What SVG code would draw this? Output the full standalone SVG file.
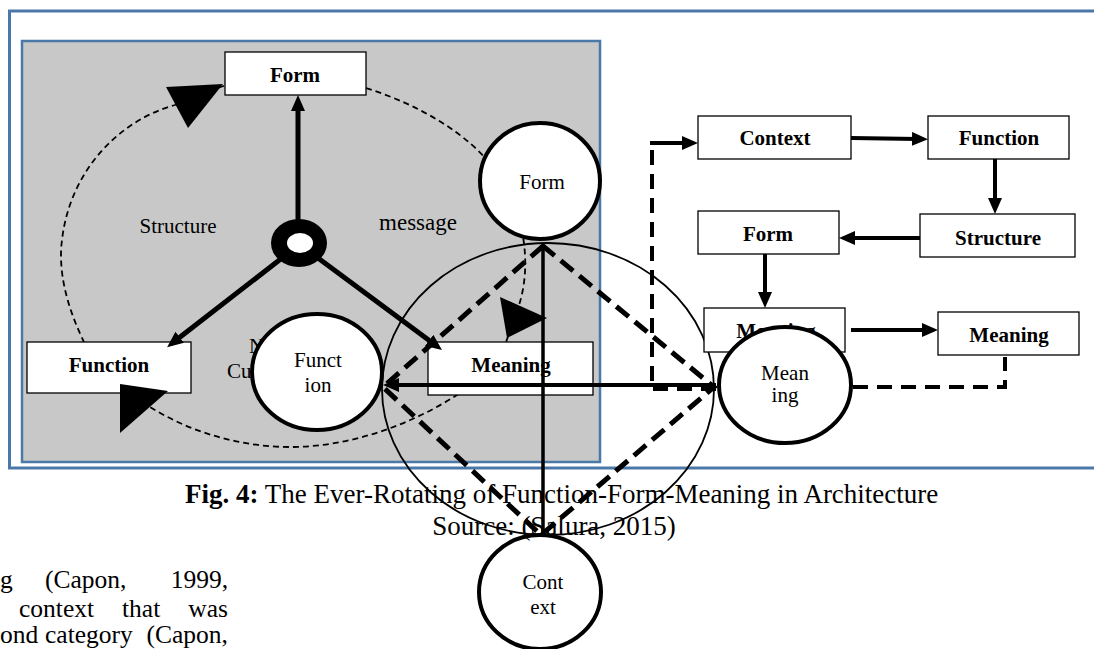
<svg xmlns="http://www.w3.org/2000/svg" width="1094" height="649" viewBox="0 0 1094 649">
  <style>
    .frame { fill: none; stroke: #4a78a8; stroke-width: 3; }
    .panel { fill: #c8c8c8; stroke: #4a78a8; stroke-width: 2.5; }
    .box { fill: #ffffff; stroke: #000000; stroke-width: 1.3; }
    .node { fill: #ffffff; stroke: #000000; stroke-width: 4; }
    .lbl { font-family: "Liberation Serif", "Times New Roman", serif; font-size: 21px; font-weight: bold; text-anchor: middle; fill: #000; }
    .clbl { font-family: "Liberation Serif", "Times New Roman", serif; font-size: 21px; text-anchor: middle; fill: #000; }
    .note { font-family: "Liberation Serif", "Times New Roman", serif; font-size: 21px; fill: #000; }
    .body { font-family: "Liberation Serif", "Times New Roman", serif; font-size: 25.5px; fill: #000; }
    .cap { font-family: "Liberation Serif", "Times New Roman", serif; font-size: 27px; fill: #000; }
    .cycle { fill: none; stroke: #000; stroke-width: 1.8; stroke-dasharray: 6 4; }
    .thick { fill: none; stroke: #000; stroke-width: 5; }
    .flow { fill: none; stroke: #000; stroke-width: 4; }
    .dash { fill: none; stroke: #000; stroke-width: 4; stroke-dasharray: 15 9; }
    .diamond { fill: none; stroke: #000; stroke-width: 5; stroke-dasharray: 16 8; }
    .ring { fill: none; stroke: #000; stroke-width: 1.8; }
  </style>
  <defs>
    <marker id="ah" markerUnits="userSpaceOnUse" markerWidth="18" markerHeight="16" refX="6" refY="7" orient="auto">
      <path d="M0,0 L16,7 L0,14 z" fill="#000"/>
    </marker>
  </defs>

  <!-- outer frame and shaded panel -->
  <rect class="frame" x="9.5" y="11" width="1100" height="457"/>
  <rect class="panel" x="22" y="41" width="578" height="421"/>

  <!-- dashed rotation loop -->
  <g id="cycle">
    <path class="cycle" d="M366,88 C420,105 470,135 495,170 C525,210 532,265 519,305 L505,345 C500,370 480,385 457,395 C410,425 350,447 290,447 C240,447 190,432 150,407 C110,385 90,360 84,342 C66,305 58,270 62,240 C70,170 120,120 175,105 C195,97 210,90 224,86 Z"/>
  </g>

  <g id="loop-labels">
    <text class="note" x="178" y="233" text-anchor="middle">Structure</text>
    <text class="note" x="418" y="230" text-anchor="middle" style="font-size:23px">message</text>
    <text class="note" x="249" y="353">N</text>
    <text class="note" x="227" y="378">Cu</text>
  </g>

  <g id="form-box">
    <rect class="box" x="225" y="52" width="141" height="43"/>
    <text class="lbl" x="295" y="82">Form</text>
  </g>
  <g id="function-box">
    <rect class="box" x="27" y="342" width="164" height="51"/>
    <text class="lbl" x="109" y="372">Function</text>
  </g>
  <g id="meaning-box">
    <rect class="box" x="428" y="342" width="165" height="53"/>
    <text class="lbl" x="511" y="372">Meaning</text>
  </g>

  <!-- hub with three spokes -->
  <g id="spokes">
    <line class="thick" x1="298" y1="222" x2="298" y2="105" marker-end="url(#ah)"/>
    <line class="thick" x1="282" y1="258" x2="175" y2="341" marker-end="url(#ah)"/>
    <line class="thick" x1="318" y1="258" x2="434" y2="344" marker-end="url(#ah)"/>
  </g>
  <g id="hub">
    <ellipse cx="299" cy="243" rx="28" ry="24" fill="#000"/>
    <ellipse cx="300" cy="243" rx="13" ry="10" fill="#fff"/>
  </g>

  <!-- loop arrowheads -->
  <g id="loop-heads" fill="#000">
    <polygon points="166,87 223,84 188,128"/>
    <polygon points="120,384 168,391 120,433"/>
    <polygon points="500,297 547,318 507,338"/>
  </g>

  <g id="function-node">
    <ellipse class="node" cx="317" cy="372" rx="65" ry="58"/>
    <text class="clbl" x="318" y="367">Funct</text>
    <text class="clbl" x="318" y="392">ion</text>
  </g>

  <!-- inner cycle: circle, diamond and axes -->
  <g id="connectors">
    <ellipse class="ring" cx="548" cy="389" rx="166" ry="146"/>
    <path class="diamond" d="M543,246 L383,387 L541,535 L714,387 Z"/>
    <line class="flow" x1="543" y1="248" x2="543" y2="535" style="stroke-width:3.5"/>
    <line class="flow" x1="716" y1="385" x2="393" y2="385" marker-end="url(#ah)"/>

    <path class="dash" d="M716,389 H652 V143"/>
    <line class="flow" x1="650" y1="143" x2="688" y2="143" marker-end="url(#ah)"/>
    <line class="flow" x1="851" y1="138" x2="918" y2="139" marker-end="url(#ah)"/>
    <line class="flow" x1="995" y1="159" x2="995" y2="204" marker-end="url(#ah)"/>
    <line class="flow" x1="920" y1="238" x2="849" y2="238" marker-end="url(#ah)"/>
    <line class="flow" x1="765" y1="254" x2="765" y2="298" marker-end="url(#ah)"/>
    <line class="flow" x1="851" y1="330" x2="928" y2="330" marker-end="url(#ah)"/>
    <path class="dash" d="M853,387 H1005 V357"/>
  </g>

  <g id="form-node">
    <ellipse class="node" cx="540" cy="181" rx="60" ry="58"/>
    <text class="clbl" x="542" y="189">Form</text>
  </g>
  <g id="context-node">
    <ellipse class="node" cx="540" cy="592" rx="61" ry="57"/>
    <text class="clbl" x="543" y="589">Cont</text>
    <text class="clbl" x="543" y="614">ext</text>
  </g>

  <!-- sequence chain -->
  <g id="context-box">
    <rect class="box" x="698" y="116" width="153" height="43"/>
    <text class="lbl" x="775" y="145">Context</text>
  </g>
  <g id="function-box-2">
    <rect class="box" x="928" y="116" width="141" height="43"/>
    <text class="lbl" x="999" y="145">Function</text>
  </g>
  <g id="structure-box">
    <rect class="box" x="920" y="214" width="155" height="43"/>
    <text class="lbl" x="998" y="245">Structure</text>
  </g>
  <g id="form-box-2">
    <rect class="box" x="698" y="211" width="141" height="43"/>
    <text class="lbl" x="768" y="241">Form</text>
  </g>
  <g id="meaning-box-2">
    <rect class="box" x="704" y="308" width="141" height="44"/>
    <text class="lbl" x="776" y="338">Meaning</text>
  </g>
  <g id="meaning-box-3">
    <rect class="box" x="938" y="312" width="141" height="43"/>
    <text class="lbl" x="1009" y="342">Meaning</text>
  </g>
  <g id="meaning-node">
    <ellipse class="node" cx="785" cy="385" rx="66" ry="58"/>
    <text class="clbl" x="785" y="380">Mean</text>
    <text class="clbl" x="785" y="402">ing</text>
  </g>

  <!-- caption -->
  <text class="cap" x="185" y="503"><tspan font-weight="bold">Fig. 4:</tspan> The Ever-Rotating of Function-Form-Meaning in Architecture</text>
  <text class="cap" x="554" y="535" text-anchor="middle">Source: (Salura, 2015)</text>

  <!-- running text -->
  <g id="body-text" class="body">
    <text x="0" y="588">g</text>
    <text x="45" y="588">(Capon,</text>
    <text x="228" y="588" text-anchor="end">1999,</text>
    <text x="19" y="617">context</text>
    <text x="122" y="617">that</text>
    <text x="228" y="617" text-anchor="end">was</text>
    <text x="0" y="643">ond</text>
    <text x="45" y="643">category</text>
    <text x="228" y="643" text-anchor="end">(Capon,</text>
  </g>
</svg>
